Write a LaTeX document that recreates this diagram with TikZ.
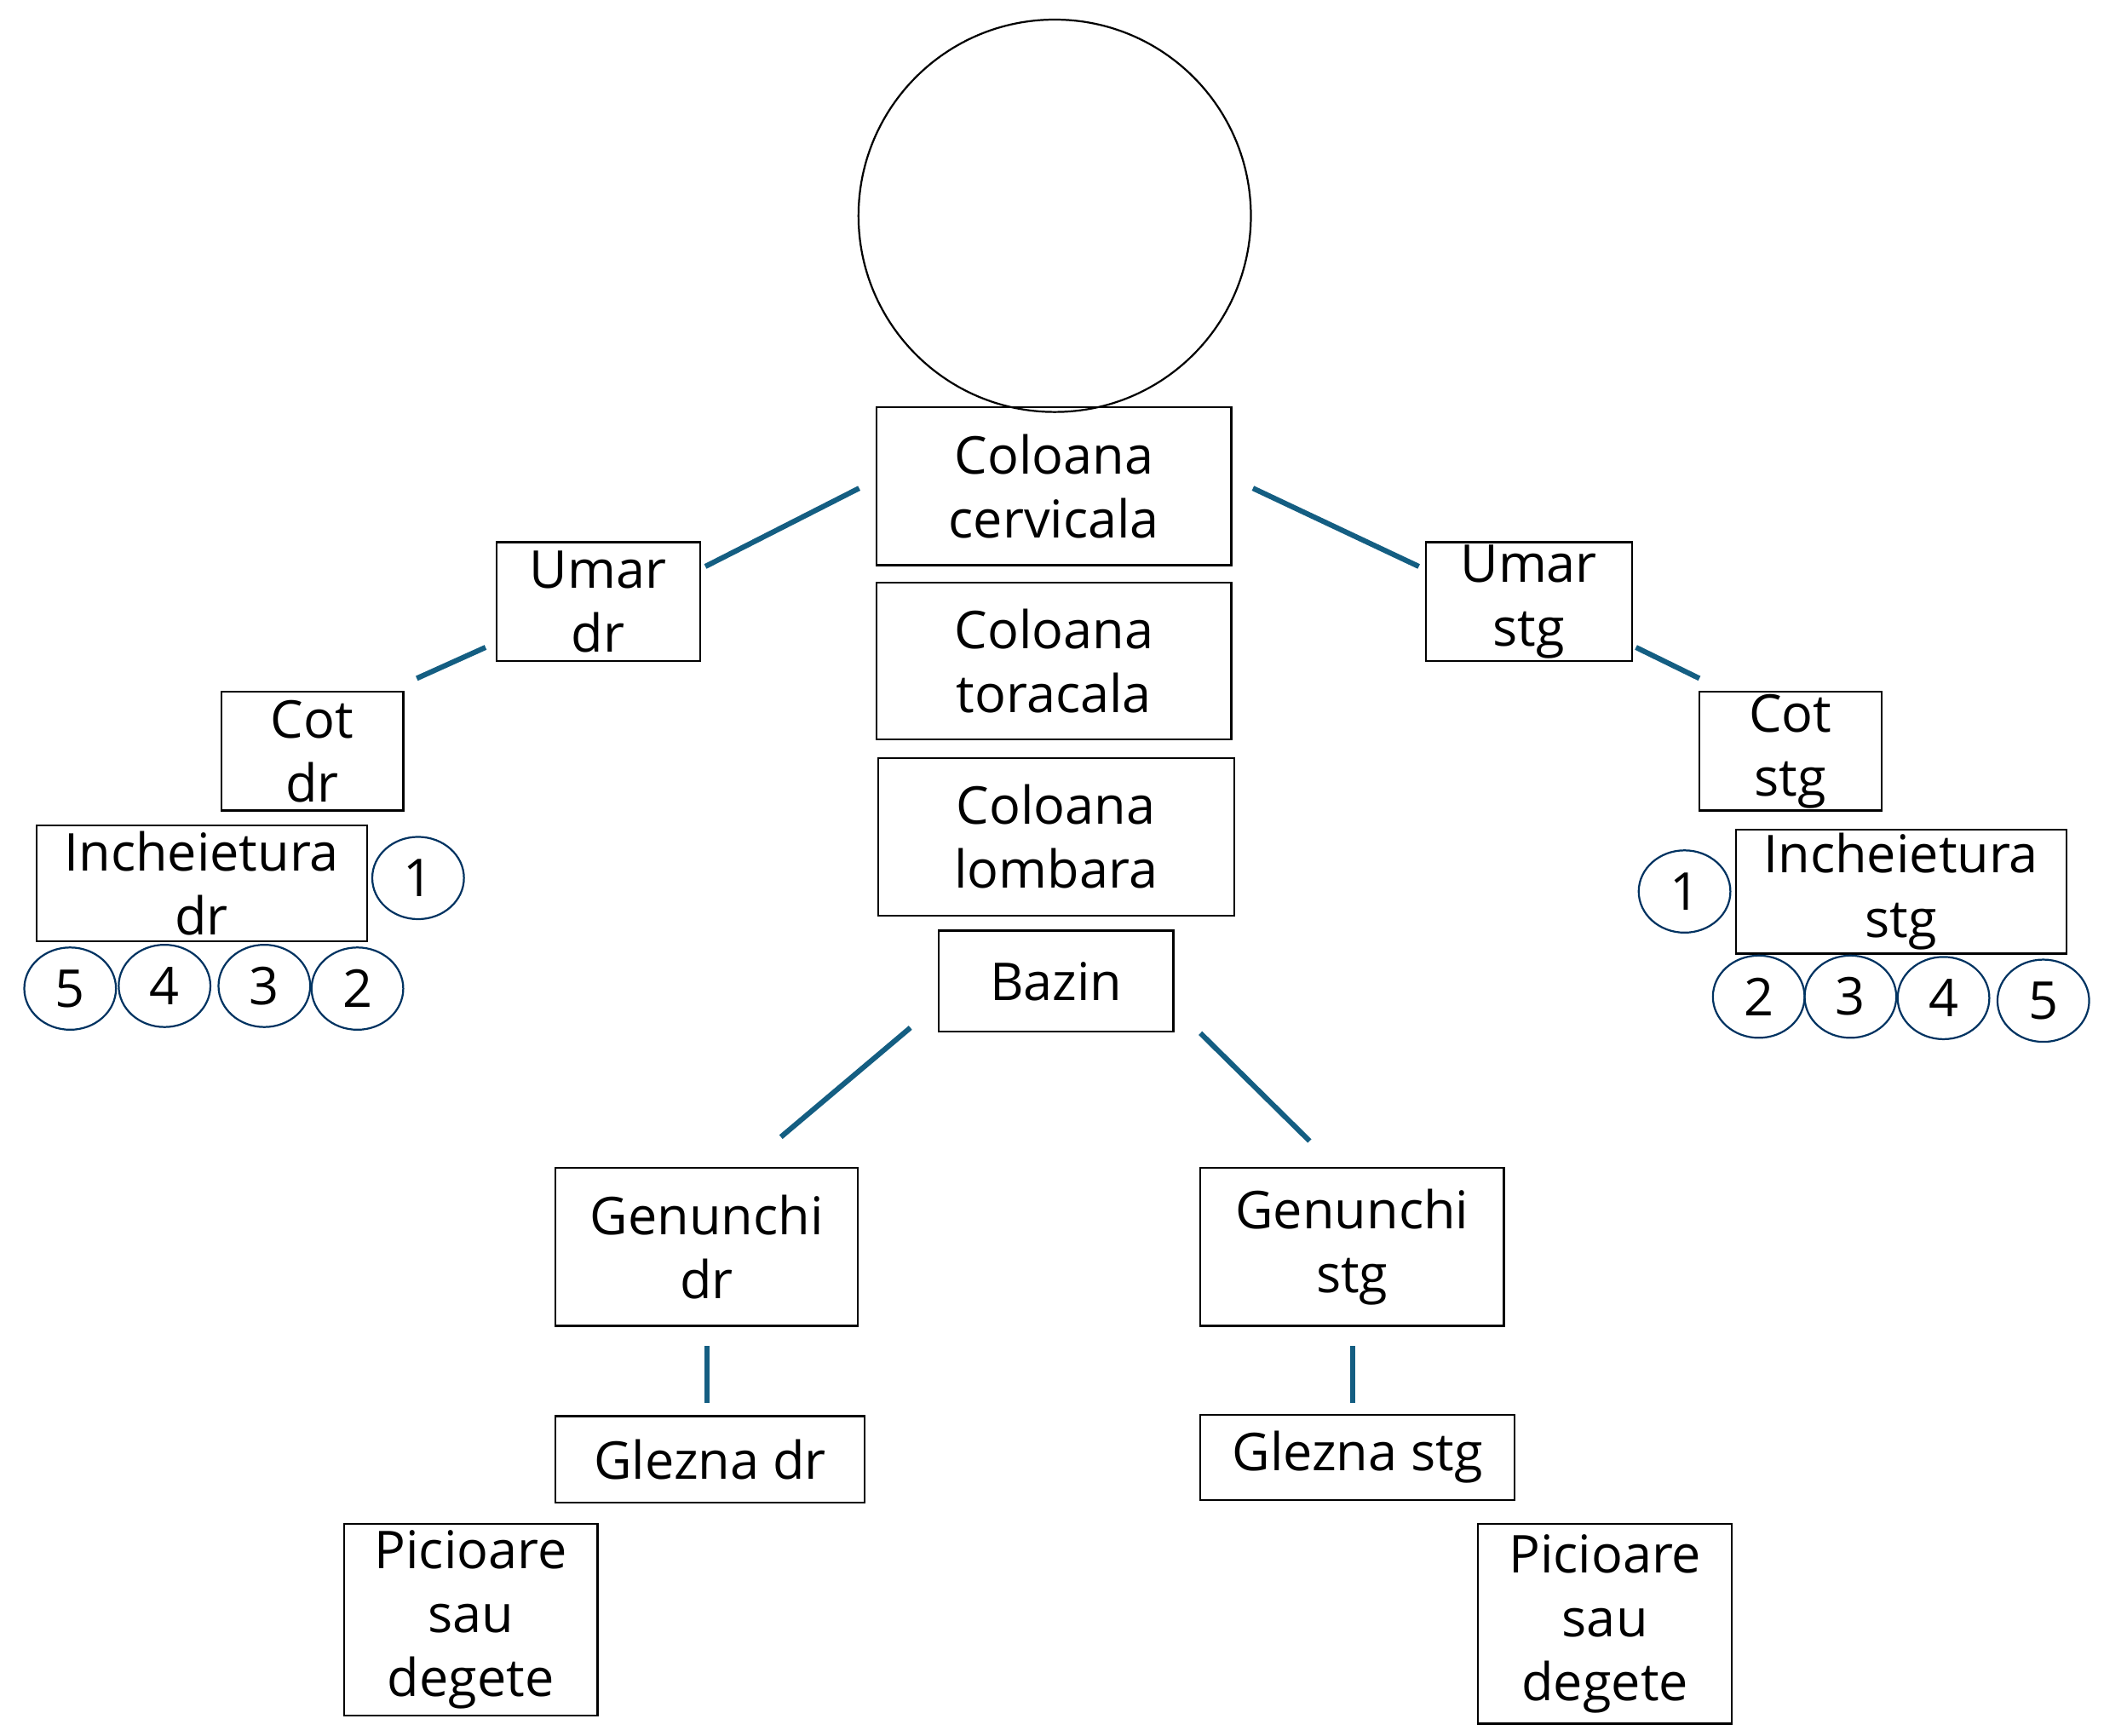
\documentclass[tikz,border=0pt]{standalone}
\usepackage{fontspec}
\setmainfont{Open Sans}
\usetikzlibrary{shapes.geometric}
\begin{document}
\begin{tikzpicture}[x=0.02cm,y=-0.02cm,
  box/.style={draw=black,line width=0.8pt,align=center,inner sep=0pt,font=\fontsize{22}{27}\selectfont},
  num/.style={draw=black!70!blue!60!teal,line width=0.8pt,ellipse,minimum width=1.36cm,minimum height=1.22cm,inner sep=0pt,font=\fontsize{22}{27}\selectfont},
  conn/.style={draw={rgb,255:red,20;green,94;blue,130},line width=2.2pt}]
\useasboundingbox (0,0) rectangle (1560,1287);
\node[draw,circle,line width=0.8pt,minimum size=5.82cm] (head) at (782,160) {};
\node[box,minimum width=5.26cm,minimum height=2.34cm] (cerv) at (781.5,360.5) {Coloana\\cervicala};
\node[box,minimum width=5.26cm,minimum height=2.32cm] (tor) at (781.5,490) {Coloana\\toracala};
\node[box,minimum width=5.28cm,minimum height=2.34cm] (lomb) at (783,620.5) {Coloana\\lombara};
\node[box,minimum width=3.48cm,minimum height=1.5cm] (bazin) at (783,727.5) {Bazin};
\node[box,minimum width=3.02cm,minimum height=1.76cm] (umardr) at (443.5,446) {Umar\\dr};
\node[box,minimum width=3.06cm,minimum height=1.76cm] (umarstg) at (1133.5,446) {Umar\\stg};
\node[box,minimum width=2.70cm,minimum height=1.76cm] (cotdr) at (231.5,557) {Cot\\dr};
\node[box,minimum width=2.70cm,minimum height=1.76cm] (cotstg) at (1327.5,557) {Cot\\stg};
\node[box,minimum width=4.90cm,minimum height=1.72cm] (incdr) at (149.5,655) {Incheietura\\dr};
\node[box,minimum width=4.90cm,minimum height=1.84cm] (incstg) at (1409.5,661) {Incheietura\\stg};
\node[box,minimum width=4.48cm,minimum height=2.34cm] (gendr) at (524,924.5) {Genunchi\\dr};
\node[box,minimum width=4.50cm,minimum height=2.34cm] (genstg) at (1002.5,924.5) {Genunchi\\stg};
\node[box,minimum width=4.58cm,minimum height=1.28cm] (glzdr) at (526.5,1082) {Glezna dr};
\node[box,minimum width=4.66cm,minimum height=1.26cm] (glzstg) at (1006.5,1080.5) {Glezna stg};
\node[box,minimum width=3.76cm,minimum height=2.84cm] (picdr) at (349,1201) {Picioare\\sau\\degete};
\node[box,minimum width=3.76cm,minimum height=2.96cm] (picstg) at (1190,1204) {Picioare\\sau\\degete};
% finger circles
\node[num] (d1) at (310,651) {1};
\node[num] (d5) at (52,733) {5};
\node[num] (d4) at (122,731) {4};
\node[num] (d3) at (196,731) {3};
\node[num] (d2) at (265,733) {2};
\node[num] (s1) at (1249,661) {1};
\node[num] (s2) at (1304,739) {2};
\node[num] (s3) at (1372,739) {3};
\node[num] (s4) at (1441,740) {4};
\node[num] (s5) at (1515,742) {5};
% connector end points
\coordinate (a1) at (637,362); \coordinate (a2) at (523,420);
\coordinate (b1) at (360,480); \coordinate (b2) at (309,503);
\coordinate (c1) at (929,362); \coordinate (c2) at (1052,420);
\coordinate (e1) at (1213,480); \coordinate (e2) at (1260,503);
\coordinate (f1) at (675,762); \coordinate (f2) at (579,843);
\coordinate (g1) at (890,766); \coordinate (g2) at (971,846);
\coordinate (h1) at (524,998); \coordinate (h2) at (524,1040);
\coordinate (k1) at (1003,998); \coordinate (k2) at (1003,1040);
\draw[conn] (a1) -- (a2);
\draw[conn] (b1) -- (b2);
\draw[conn] (c1) -- (c2);
\draw[conn] (e1) -- (e2);
\draw[conn] (f1) -- (f2);
\draw[conn] (g1) -- (g2);
\draw[conn] (h1) -- (h2);
\draw[conn] (k1) -- (k2);
\end{tikzpicture}
\end{document}
